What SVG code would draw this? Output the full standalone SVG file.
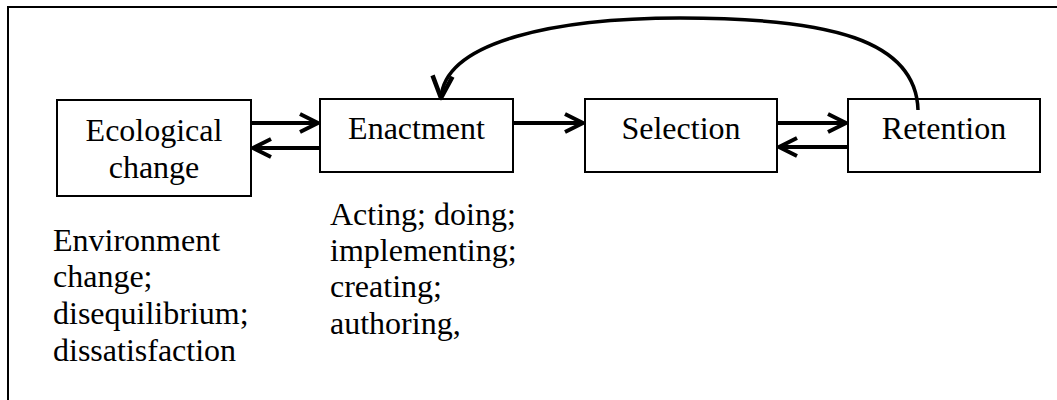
<svg xmlns="http://www.w3.org/2000/svg" width="1057" height="400" viewBox="0 0 1057 400">
  <style>
    .box { fill: #ffffff; stroke: #000000; stroke-width: 2; }
    .label { font-family: "Liberation Serif", "Times New Roman", serif; font-size: 32px; fill: #000000; }
    .mid { text-anchor: middle; }
    .conn { fill: none; stroke: #000000; stroke-width: 4; }
    .loop { fill: none; stroke: #000000; stroke-width: 3.5; }
    .frame { fill: none; stroke: #000000; stroke-width: 2; }
  </style>
  <defs>
    <marker id="open-head" markerUnits="userSpaceOnUse" viewBox="-24 -14 28 28" refX="0" refY="0" markerWidth="28" markerHeight="28" orient="auto" overflow="visible">
      <path d="M-18,-9 L0,0 L-18,9" fill="none" stroke="#000000" stroke-width="4" stroke-linejoin="round" stroke-linecap="butt"/>
    </marker>
    <marker id="loop-head" markerUnits="userSpaceOnUse" viewBox="-26 -14 30 28" refX="0" refY="0" markerWidth="30" markerHeight="28" orient="auto" overflow="visible">
      <path d="M-22,-10 L0,0 L-22,10" fill="none" stroke="#000000" stroke-width="4.5" stroke-linejoin="round" stroke-linecap="butt"/>
    </marker>
  </defs>

  <rect width="1057" height="400" fill="#ffffff"/>

  <!-- outer frame: top and left edges -->
  <path class="frame" d="M8,400 L8,7 L1057,7"/>

  <g id="node-ecological">
    <rect class="box" x="57" y="100" width="194" height="96"/>
    <text class="label mid" x="154" y="141">Ecological</text>
    <text class="label mid" x="154" y="178">change</text>
  </g>

  <g id="node-enactment">
    <rect class="box" x="320" y="99" width="193" height="73"/>
    <text class="label mid" x="416.5" y="139">Enactment</text>
  </g>

  <g id="node-selection">
    <rect class="box" x="585" y="99" width="192" height="73"/>
    <text class="label mid" x="681" y="139">Selection</text>
  </g>

  <g id="node-retention">
    <rect class="box" x="848" y="99" width="192" height="73"/>
    <text class="label mid" x="944" y="139">Retention</text>
  </g>

  <g id="note-ecological">
    <text class="label" x="53" y="251">Environment</text>
    <text class="label" x="53" y="287">change;</text>
    <text class="label" x="53" y="324">disequilibrium;</text>
    <text class="label" x="53" y="361">dissatisfaction</text>
  </g>

  <g id="note-enactment">
    <text class="label" x="330" y="225">Acting; doing;</text>
    <text class="label" x="330" y="261">implementing;</text>
    <text class="label" x="330" y="297">creating;</text>
    <text class="label" x="330" y="334">authoring,</text>
  </g>

  <g id="connectors">
    <line class="conn" x1="251" y1="123" x2="318" y2="123" marker-end="url(#open-head)"/>
    <line class="conn" x1="320" y1="148" x2="253" y2="148" marker-end="url(#open-head)"/>
    <line class="conn" x1="513" y1="123" x2="583" y2="123" marker-end="url(#open-head)"/>
    <line class="conn" x1="777" y1="123" x2="846" y2="123" marker-end="url(#open-head)"/>
    <line class="conn" x1="848" y1="147" x2="779" y2="147" marker-end="url(#open-head)"/>
    <path class="loop" d="M918,110 C916,40 830,18 680,18 C560,18 445,40 441,98" marker-end="url(#loop-head)"/>
  </g>
</svg>
